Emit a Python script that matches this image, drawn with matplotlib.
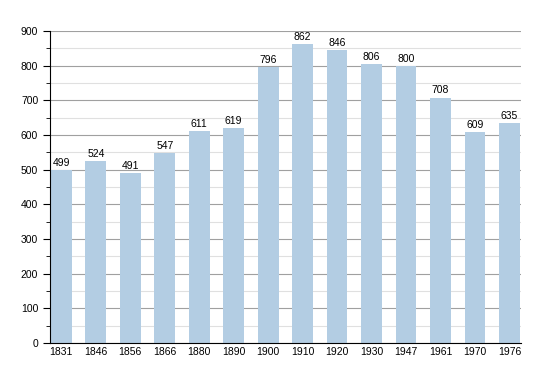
import matplotlib
matplotlib.use("Agg")
import matplotlib.pyplot as plt
from matplotlib.ticker import MultipleLocator

years = ["1831", "1846", "1856", "1866", "1880", "1890", "1900",
         "1910", "1920", "1930", "1947", "1961", "1970", "1976"]
population = [499, 524, 491, 547, 611, 619, 796, 862, 846, 806, 800, 708, 609, 635]

plt.rcParams["font.family"] = ["Liberation Sans", "DejaVu Sans"]

fig = plt.figure(figsize=(5.5, 3.73), dpi=100)
ax = fig.add_axes([0.0909, 0.0804, 0.856, 0.8365])

x = range(len(years))
bars = ax.bar(x, population, width=0.6, color="#b3cde3", zorder=2)
for xi, v in zip(x, population):
    ax.text(xi, v + 6, str(v), ha="center", va="bottom", fontsize=7.5, zorder=3)

ax.set_xlim(-0.33, len(years) - 0.67)
ax.set_ylim(0, 900)
ax.set_xticks(list(x))
ax.set_xticklabels(years)
ax.yaxis.set_major_locator(MultipleLocator(100))
ax.yaxis.set_minor_locator(MultipleLocator(50))
ax.grid(axis="y", which="major", color="#a0a0a0", linewidth=0.8, zorder=1)
ax.grid(axis="y", which="minor", color="#e0e0e0", linewidth=0.8, zorder=1)
ax.tick_params(axis="x", length=0, labelsize=7.5, pad=3)
ax.tick_params(axis="y", which="major", length=5, labelsize=7.5)
ax.tick_params(axis="y", which="minor", length=3)
for s in ["top", "right"]:
    ax.spines[s].set_visible(False)

fig.savefig("out.png", dpi=100)
